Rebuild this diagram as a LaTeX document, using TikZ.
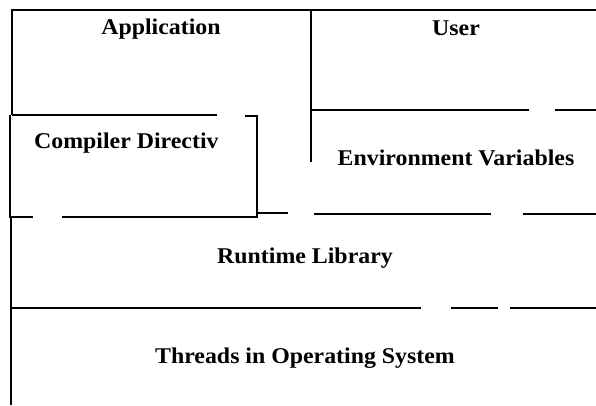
\documentclass[tikz,border=0pt]{standalone}
\usepackage{fontspec}
\setmainfont{Liberation Serif}[FakeStretch=1.06]
\begin{document}
\begin{tikzpicture}[x=1pt,y=-1pt,
  rule/.style={line width=1.6pt, black},
  lbl/.style={anchor=base, inner sep=0pt, font=\fontsize{22.5}{26}\selectfont\bfseries}]
\useasboundingbox (0,0) rectangle (596,405);
% outer top and left
\draw[rule] (596,10) -- (12,10) -- (12,115);
\draw[rule] (11,217) -- (11,405);
% application bottom / compiler box
\draw[rule] (12,115) -- (217,115);
\draw[rule] (245,116) -- (257,116) -- (257,217) -- (62,217);
\draw[rule] (33,217) -- (10,217) -- (10,115);
\draw[rule] (257,213) -- (288,213);
% application / user divider
\draw[rule] (311,10) -- (311,162);
% user bottom
\draw[rule] (311,110) -- (529,110);
\draw[rule] (555,110) -- (596,110);
% environment bottom
\draw[rule] (314,214) -- (491,214);
\draw[rule] (523,214) -- (596,214);
% runtime bottom
\draw[rule] (11,308) -- (421,308);
\draw[rule] (451,308) -- (498,308);
\draw[rule] (510,308) -- (596,308);
% labels
\node[lbl] (app) at (161,34) {Application};
\node[lbl] (usr) at (456,35) {User};
\node[lbl, anchor=base west] (cd) at (34,148) {Compiler Directiv};
\node[lbl] (env) at (456,165) {Environment Variables};
\node[lbl] (rt) at (305,263) {Runtime Library};
\node[lbl] (os) at (305,363) {Threads in Operating System};
\end{tikzpicture}
\end{document}
